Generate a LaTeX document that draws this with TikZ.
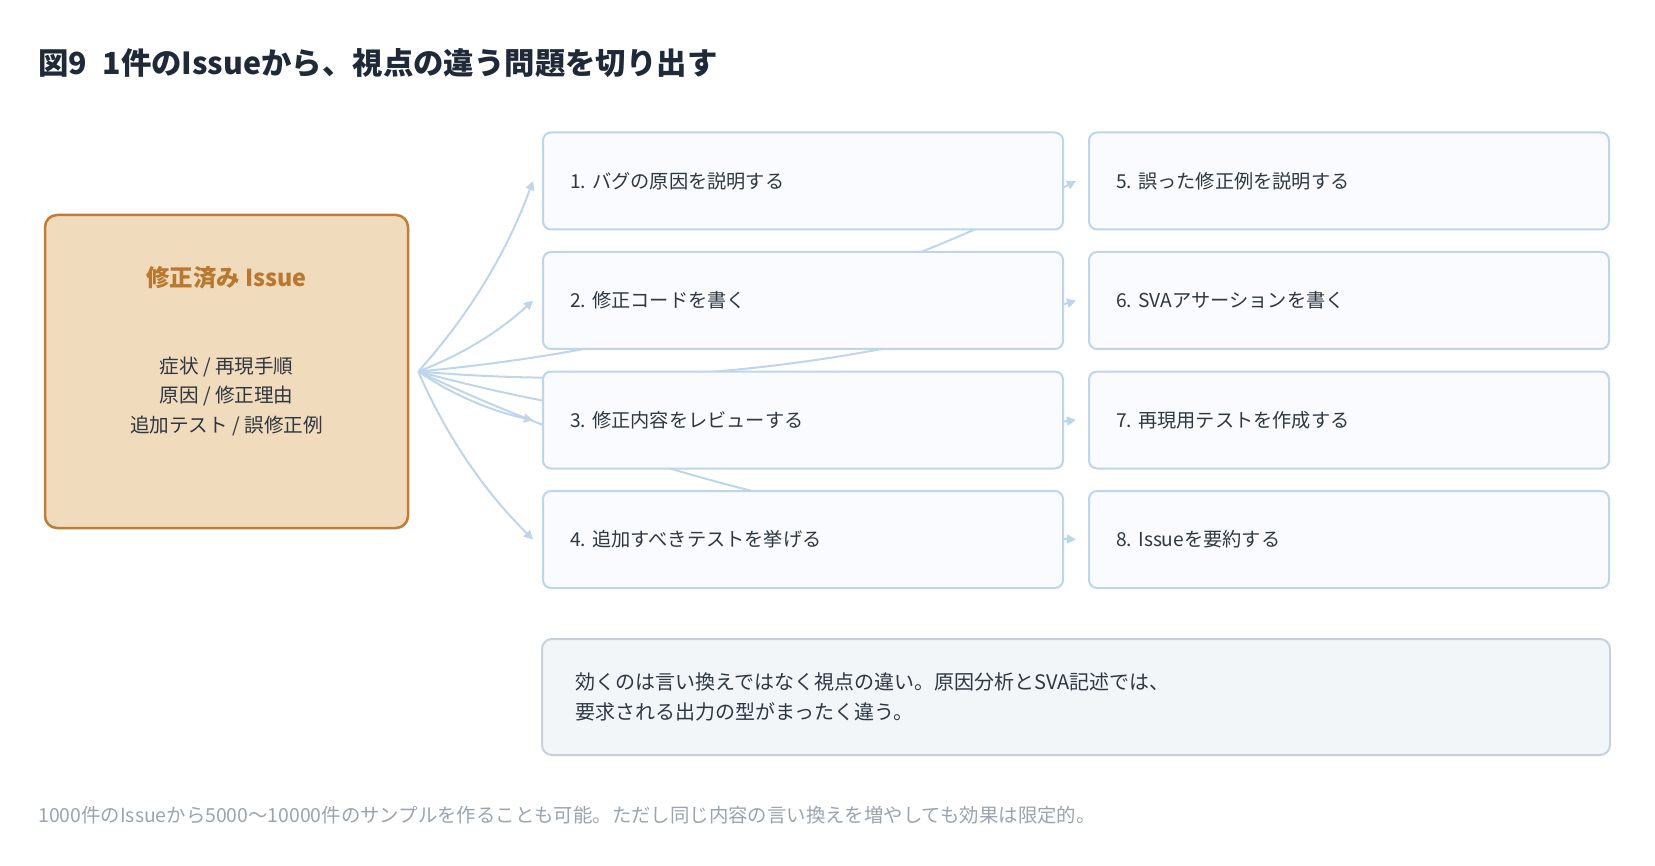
\documentclass[tikz,border=0pt]{standalone}
\usepackage{fontspec}
\setmainfont{Noto Sans CJK JP}
\usetikzlibrary{arrows.meta,backgrounds}
\frenchspacing
\definecolor{titleink}{HTML}{1F2937}
\definecolor{ink}{HTML}{2E3742}
\definecolor{srcfill}{HTML}{F0DBBC}
\definecolor{srcline}{HTML}{C17D37}
\definecolor{srcink}{HTML}{B9772F}
\definecolor{boxline}{HTML}{BED5EC}
\definecolor{boxfill}{HTML}{F9FBFE}
\definecolor{notefill}{HTML}{F3F6F9}
\definecolor{noteline}{HTML}{C8D0D9}
\definecolor{footink}{HTML}{9BA3AE}
\tikzset{
  issue/.style={draw=srcline,fill=srcfill,line width=1.25pt,rounded corners=6pt,
    minimum width=181.5pt,minimum height=156.5pt},
  task/.style={draw=boxline,fill=boxfill,line width=1pt,rounded corners=4pt,
    minimum height=48.5pt,text width=233pt,inner xsep=13.5pt,align=left,text=ink,
    font=\fontsize{9.6}{12}\selectfont},
  note/.style={draw=noteline,fill=notefill,line width=1pt,rounded corners=5pt,
    minimum height=58pt,text width=501pt,inner xsep=16.5pt,align=left,text=ink,
    font=\fontsize{10}{15}\selectfont},
  link/.style={draw=boxline,line width=1pt,-{Triangle[length=4.5pt,width=4.5pt]},
    bend right=11,looseness=.87}
}
\begin{document}
\begin{tikzpicture}[x=.5pt,y=-.5pt,line join=round,font=\fontsize{9.8}{12}\selectfont]
	\useasboundingbox (0,0) rectangle (1655,866);
	\node[anchor=west,inner xsep=0pt,text=titleink,font=\bfseries\fontsize{15.2}{18}\selectfont] (title) at (38,63)
		{図9\hspace{.5em}1件のIssueから、視点の違う問題を切り出す};
	% issue on the left
	\node[issue] (src) at (226.5,371.5) {};
	\node[text=srcink,font=\bfseries\fontsize{11.7}{15}\selectfont] (srctitle) at (226.5,278) {修正済み Issue};
	\node[align=center,text=ink,font=\fontsize{9.8}{14.9}\selectfont] (srcbody) at (226.5,396.5)
		{症状 / 再現手順\\原因 / 修正理由\\追加テスト / 誤修正例};
	\coordinate (hub) at ([xshift=4.5pt]src.east);
	% the eight problems
	\node[task] (l1) at (803,181) {1. バグの原因を説明する};
	\node[task] (l2) at (803,300.5) {2. 修正コードを書く};
	\node[task] (l3) at (803,420) {3. 修正内容をレビューする};
	\node[task] (l4) at (803,539.5) {4. 追加すべきテストを挙げる};
	\node[task] (r1) at (1349,181) {5. 誤った修正例を説明する};
	\node[task] (r2) at (1349,300.5) {6. SVAアサーションを書く};
	\node[task] (r3) at (1349,420) {7. 再現用テストを作成する};
	\node[task] (r4) at (1349,539.5) {8. Issueを要約する};
	\node[note] (note) at (1076,697)
		{効くのは言い換えではなく視点の違い。原因分析とSVA記述では、\\要求される出力の型がまったく違う。};
	\node[anchor=west,inner xsep=0pt,text=footink,font=\fontsize{9.7}{12}\selectfont] (foot) at (38,815)
		{1000件のIssueから5000〜10000件のサンプルを作ることも可能。ただし同じ内容の言い換えを増やしても効果は限定的。};
	\begin{scope}[on background layer]
		\draw[link] (hub) to ([xshift=-4.5pt]l1.west);
		\draw[link] (hub) to ([xshift=-4.5pt]l2.west);
		\draw[link] (hub) to ([xshift=-4.5pt]l3.west);
		\draw[link] (hub) to ([xshift=-4.5pt]l4.west);
		\draw[link] (hub) to ([xshift=-6pt]r1.west);
		\draw[link] (hub) to ([xshift=-6pt]r2.west);
		\draw[link] (hub) to ([xshift=-6pt]r3.west);
		\draw[link] (hub) to ([xshift=-6pt]r4.west);
	\end{scope}
\end{tikzpicture}
\end{document}
